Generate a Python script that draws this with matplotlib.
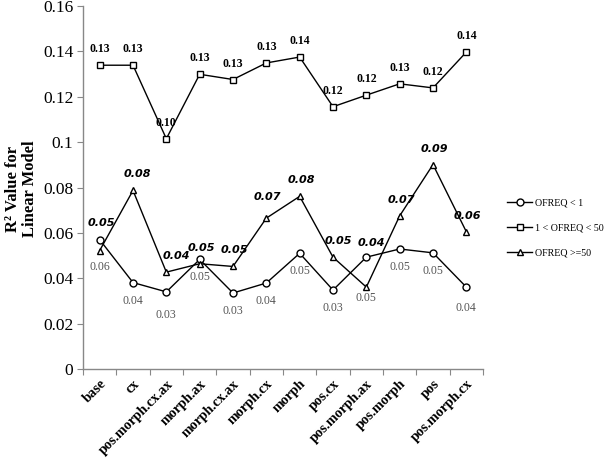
import matplotlib
matplotlib.use("Agg")
import matplotlib.pyplot as plt

categories = ['base', 'cx', 'pos.morph.cx.ax', 'morph.ax', 'morph.cx.ax', 'morph.cx',
              'morph', 'pos.cx', 'pos.morph.ax', 'pos.morph', 'pos', 'pos.morph.cx']
ofreq_lt1 = [0.0570, 0.0381, 0.0340, 0.0483, 0.0335, 0.0379,
             0.0510, 0.0348, 0.0493, 0.0529, 0.0512, 0.0361]
ofreq_1_50 = [0.1339, 0.1339, 0.1015, 0.1299, 0.1276, 0.1349,
              0.1375, 0.1156, 0.1207, 0.1257, 0.1239, 0.1397]
ofreq_ge50 = [0.0522, 0.0787, 0.0427, 0.0464, 0.0452, 0.0665,
              0.0761, 0.0493, 0.0361, 0.0675, 0.0901, 0.0605]
series_names = ['OFREQ < 1', '1 < OFREQ < 50', 'OFREQ >=50']
yticks = [0, 0.02, 0.04, 0.06, 0.08, 0.1, 0.12, 0.14, 0.16]
ytick_labels = ['0', '0.02', '0.04', '0.06', '0.08', '0.1', '0.12', '0.14', '0.16']

# label offsets (points) that were moved by hand in the original
circle_dy = {0: -20, 2: -17, 8: -29.5, 11: -15}
tri_dy = {0: 19.5, 5: 15, 8: 32}
tri_dx = {2: 7, 7: 3.5, 8: 3.5, 1: 3}

serif = 'Liberation Serif'
fig = plt.figure(figsize=(6.09, 4.58), dpi=100)
ax = fig.add_axes([0.1363, 0.1943, 0.6568, 0.7926])

x = list(range(len(categories)))
mk = dict(color='black', lw=1.0, markerfacecolor='white', markeredgecolor='black',
          markeredgewidth=1.0, markersize=5)
l1, = ax.plot(x, ofreq_lt1, marker='o', label=series_names[0], **mk)
l2, = ax.plot(x, ofreq_1_50, marker='s', label=series_names[1], **mk)
l3, = ax.plot(x, ofreq_ge50, marker='^', label=series_names[2], **mk)

# data labels
for i, v in enumerate(ofreq_1_50):
    ax.annotate(f"{v:.2f}", (i, v), xytext=(0, 11.5), textcoords='offset points',
                ha='center', va='center', fontsize=8.5, fontweight='bold', family=serif)
for i, v in enumerate(ofreq_lt1):
    ax.annotate(f"{v:.2f}", (i, v), xytext=(0, circle_dy.get(i, -13)), textcoords='offset points',
                ha='center', va='center', fontsize=8.5, color='#555555', family=serif)
for i, v in enumerate(ofreq_ge50):
    ax.annotate(f"{v:.2f}", (i, v), xytext=(tri_dx.get(i, 1), tri_dy.get(i, 11.5)),
                textcoords='offset points', ha='center', va='center', fontsize=8,
                fontweight='bold', style='italic', family='DejaVu Sans')

ax.set_xlim(-0.5, len(categories) - 0.5)
ax.set_ylim(0, 0.16)
ax.set_yticks(yticks)
ax.set_yticklabels(ytick_labels, family=serif, fontsize=12.5)
ax.set_xticks([i - 0.5 for i in range(len(categories) + 1)])
ax.set_xticklabels([])
ax.set_xticks(x, minor=True)
ax.set_xticklabels(categories, minor=True, rotation=45, ha='right', va='top',
                   rotation_mode='anchor', family=serif, fontsize=10.2, fontweight='bold')
ax.tick_params(axis='x', which='minor', length=0, pad=6)
ax.tick_params(axis='x', which='major', length=4, color='#888888', direction='out')
ax.tick_params(axis='y', length=4, color='#888888', direction='out', pad=3)

for s in ['top', 'right']:
    ax.spines[s].set_visible(False)
for s in ['left', 'bottom']:
    ax.spines[s].set_color('#888888')
    ax.spines[s].set_linewidth(1.0)

fig.text(0.035, 0.587, "R\u00b2 Value for\nLinear Model", rotation=90, ha='center', va='center',
         family=serif, fontsize=12, fontweight='bold', linespacing=1.05)

fig.legend(handles=[l1, l2, l3], loc='center left', bbox_to_anchor=(0.833, 0.502),
           frameon=False, prop={'family': serif, 'size': 7.2}, handlelength=2.5,
           handletextpad=0.3, labelspacing=1.6, borderpad=0, borderaxespad=0)

fig.savefig('out.png', dpi=100)
